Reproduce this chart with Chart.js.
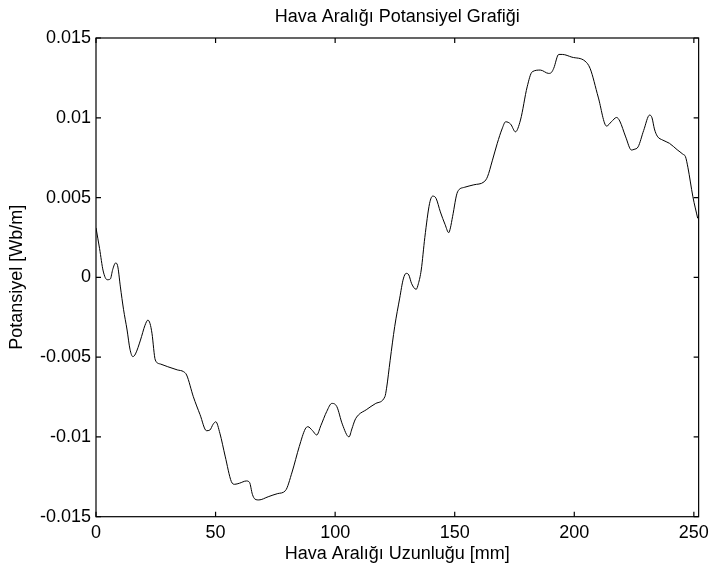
<!DOCTYPE html>
<html>
<head>
<meta charset="utf-8">
<script src="https://cdn.jsdelivr.net/npm/chart.js@4/dist/chart.umd.min.js"></script>
<style>
  html, body { margin: 0; padding: 0; background: #fff; }
  #wrap { width: 715px; height: 571px; }
</style>
</head>
<body>
<div id="wrap"><canvas id="potChart"></canvas></div>
<script>
// x positions along the air gap [mm]
const gapMm = [
  0, 1.5, 3, 4.7, 6, 7, 8.2, 9, 10.2, 11.5, 13, 14.2, 15.4, 16.5, 18.6, 20.5, 21.7, 22.6, 23.4, 24.8,
  26.9, 30, 34, 36.6, 37.9, 40.7, 43.5, 46.2, 47.6, 49, 50.1, 51.8, 54, 56.6, 58, 60, 62.9, 64.2, 65.4, 66.5,
  68.1, 72, 76, 79.2, 82, 85, 87.5, 88.6, 90.5, 92.3, 94, 96.5, 98.6, 100.7, 103, 105.8, 107, 108.3, 109.7, 113,
  117, 120.8, 121.5, 123, 124.9, 127, 128.5, 129.7, 130.8, 132, 133.9, 134.8, 136, 137.5, 139.5, 140.8, 142.2, 144, 146, 147.5,
  148.2, 149.1, 151.2, 154, 158, 162.3, 163.7, 165.7, 167.8, 169.8, 171.3, 173.4, 175.4, 177.5, 180.3, 182.4, 185.8, 189.3, 190.5, 191.4,
  193.5, 195, 199, 204.5, 206.6, 210, 213.5, 215.5, 217.7, 219, 221.5, 223.9, 225, 226.7, 229, 231.5, 232.5, 233.5, 234.7, 237,
  239.8, 243, 245.4, 246.5, 247.5, 249.6, 251.6
];

// potential [Wb/m] (x1e-3)
const potential = [
  3.1, 1.8, 0.4, -0.15, -0.1, 0.5, 0.9, 0.75, -0.6, -2.0, -3.3, -4.5, -4.97, -4.8, -3.93, -3.0, -2.68, -2.9, -3.5, -5.18,
  -5.43, -5.6, -5.8, -5.91, -6.12, -7.48, -8.6, -9.61, -9.57, -9.2, -9.05, -9.77, -11.2, -12.8, -12.97, -12.9, -12.76, -12.85, -13.6, -13.9,
  -13.95, -13.75, -13.55, -13.37, -12.2, -10.6, -9.5, -9.36, -9.6, -9.88, -9.3, -8.4, -7.9, -8.1, -9.2, -10.0, -9.5, -8.94, -8.63, -8.3,
  -7.9, -7.48, -6.95, -5.2, -3.09, -1.3, -0.1, 0.25, 0.15, -0.4, -0.75, -0.4, 0.46, 2.5, 4.64, 5.09, 4.95, 4.1, 3.3, 2.8,
  3.1, 3.8, 5.36, 5.64, 5.8, 5.99, 6.3, 7.3, 8.4, 9.3, 9.75, 9.6, 9.12, 9.86, 11.94, 12.88, 12.99, 12.78, 12.85, 13.1,
  13.97, 13.97, 13.8, 13.55, 13.1, 11.3, 9.48, 9.75, 10.02, 9.8, 8.8, 7.98, 8.02, 8.18, 9.2, 10.17, 10.0, 9.3, 8.85, 8.6,
  8.4, 8.0, 7.72, 7.56, 6.9, 5.05, 3.7
].map(v => v / 1000);

const xTicks = [0, 50, 100, 150, 200, 250];
const yTicks = [-0.015, -0.01, -0.005, 0, 0.005, 0.01, 0.015];

const titleText = "Hava Aralığı Potansiyel Grafiği";
const xLabel = "Hava Aralığı Uzunluğu [mm]";
const yLabel = "Potansiyel [Wb/m]";

const font = "'Liberation Sans', Arial, sans-serif";
const fs = 18;

// matlab style box with inward ticks on all four sides
const boxPlugin = {
  id: "boxTicks",
  afterDraw(chart) {
    const ctx = chart.ctx;
    const a = chart.chartArea;
    const xs = chart.scales.x, ys = chart.scales.y;
    const len = 5;
    ctx.save();
    ctx.strokeStyle = "#000";
    ctx.lineWidth = 1.2;
    ctx.strokeRect(a.left, a.top, a.right - a.left, a.bottom - a.top);
    ctx.beginPath();
    xs.ticks.forEach(t => {
      const px = xs.getPixelForValue(t.value);
      ctx.moveTo(px, a.bottom); ctx.lineTo(px, a.bottom - len);
      ctx.moveTo(px, a.top); ctx.lineTo(px, a.top + len);
    });
    ys.ticks.forEach(t => {
      const py = ys.getPixelForValue(t.value);
      ctx.moveTo(a.left, py); ctx.lineTo(a.left + len, py);
      ctx.moveTo(a.right, py); ctx.lineTo(a.right - len, py);
    });
    ctx.stroke();
    ctx.restore();
  }
};

const points = gapMm.map((x, i) => ({ x: x, y: potential[i] }));

new Chart(document.getElementById("potChart"), {
  type: "line",
  data: {
    datasets: [{
      data: points,
      borderColor: "#000",
      borderWidth: 1,
      pointRadius: 0,
      cubicInterpolationMode: "monotone",
      fill: false
    }]
  },
  options: {
    responsive: true,
    maintainAspectRatio: false,
    animation: false,
    layout: { padding: { left: 0, right: 13.3, top: 0, bottom: 0 } },
    plugins: {
      legend: { display: false },
      tooltip: { enabled: false },
      title: { display: false }
    },
    scales: {
      // top axis only carries the chart title, centred over the plot box
      top: {
        type: "linear",
        position: "top",
        min: 0,
        max: 252,
        afterFit: s => { s.height = 38; },
        grid: { display: false, drawTicks: false },
        border: { display: false },
        ticks: { display: false },
        title: {
          display: true, text: titleText, color: "#000",
          font: { family: font, size: fs }, padding: { top: 6.2, bottom: 0 }
        }
      },
      x: {
        type: "linear",
        min: 0,
        max: 252,
        afterBuildTicks: s => { s.ticks = xTicks.map(v => ({ value: v })); },
        afterFit: s => { s.height = 54.3; },
        grid: { display: false, drawTicks: false },
        border: { display: false },
        ticks: { color: "#000", padding: 6, font: { family: font, size: fs }, maxRotation: 0 },
        title: {
          display: true, text: xLabel, color: "#000",
          font: { family: font, size: fs }, padding: { top: 0, bottom: 6.5 }
        }
      },
      y: {
        min: -0.015,
        max: 0.015,
        afterBuildTicks: s => { s.ticks = yTicks.map(v => ({ value: v })); },
        afterFit: s => { s.width = 96; },
        grid: { display: false, drawTicks: false },
        border: { display: false },
        ticks: {
          color: "#000", padding: 5, font: { family: font, size: fs },
          callback: v => String(+Number(v).toFixed(3))
        },
        title: {
          display: true, text: yLabel, color: "#000",
          font: { family: font, size: fs }, padding: { top: 6.7, bottom: 0 }
        }
      }
    }
  },
  plugins: [boxPlugin]
});
</script>
</body>
</html>
